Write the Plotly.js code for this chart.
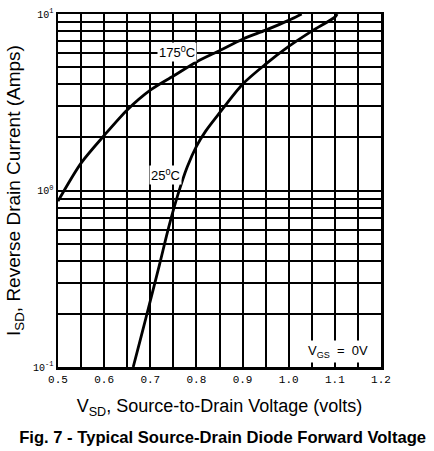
<!DOCTYPE html>
<html>
<head>
<meta charset="utf-8">
<script src="https://cdn.plot.ly/plotly-3.0.1.min.js"></script>
<style>html,body{margin:0;padding:0;background:#fff;}#chart{width:434px;height:451px;}</style>
</head>
<body>
<div id="chart"></div>
<script>
// 175 °C curve
const vsd175 = [0.50, 0.55, 0.60, 0.65, 0.70, 0.75, 0.80, 0.85, 0.90, 0.95, 1.00, 1.028];
const isd175 = [0.87, 1.43, 2.05, 2.86, 3.70, 4.45, 5.35, 6.20, 7.20, 8.10, 9.20, 10.0];
// 25 °C curve
const vsd25 = [0.663, 0.68, 0.70, 0.72, 0.74, 0.76, 0.78, 0.80, 0.82, 0.85, 0.90, 0.95, 1.00, 1.05, 1.10, 1.105];
const isd25 = [0.10, 0.148, 0.237, 0.38, 0.62, 0.95, 1.36, 1.78, 2.17, 2.75, 4.00, 5.20, 6.55, 8.00, 9.60, 10.0];
// axis ticks
const xTickVals = [0.5, 0.6, 0.7, 0.8, 0.9, 1.0, 1.1, 1.2];
const xTickText = ['0.5', '0.6', '0.7', '0.8', '0.9', '1.0', '1.1', '1.2'];
const yTickVals = [0.1, 0.2, 0.3, 0.4, 0.5, 0.6, 0.7, 0.8, 0.9, 1, 2, 3, 4, 5, 6, 7, 8, 9, 10];
const yTickText = ['10<sup>-1</sup>', '', '', '', '', '', '', '', '', '10<sup>0</sup>', '', '', '', '', '', '', '', '', '10<sup>1</sup>'];
// labels
const curveLabels = ['175<sup>0</sup>C', '25<sup>0</sup>C'];
const noteLabel = 'V<sub>GS</sub>  =  0V';

const lineStyle = {color: '#000', width: 2.8, shape: 'spline', smoothing: 0.8};
const traces = [
  {x: vsd175, y: isd175, mode: 'lines', line: lineStyle, hoverinfo: 'skip', showlegend: false},
  {x: vsd25, y: isd25, mode: 'lines', line: lineStyle, hoverinfo: 'skip', showlegend: false}
];

const layout = {
  width: 434, height: 451,
  margin: {l: 58, r: 53, t: 14, b: 84},
  paper_bgcolor: '#fff', plot_bgcolor: '#fff',
  font: {family: 'Liberation Sans, Arial, sans-serif', color: '#000'},
  title: {
    text: '<b>Fig. 7 - Typical Source-Drain Diode Forward Voltage</b>',
    font: {family: 'Liberation Sans, Arial, sans-serif', size: 16.6, color: '#000'},
    x: 0.513, xanchor: 'center', y: 0.031, yanchor: 'middle', yref: 'container'
  },
  xaxis: {
    range: [0.5, 1.2], tickvals: xTickVals, ticktext: xTickText,
    tickfont: {family: 'Liberation Mono, Courier New, monospace', size: 11, color: '#000'},
    showgrid: true, gridcolor: '#000', gridwidth: 2,
    minor: {dtick: 0.05, tick0: 0.5, showgrid: true, gridcolor: '#000', gridwidth: 2},
    showline: true, linecolor: '#000', linewidth: 2.5, mirror: true,
    zeroline: false, ticks: '',
    title: {text: 'V<sub>SD</sub>, Source-to-Drain Voltage (volts)', font: {size: 18, color: '#000'}, standoff: 15}
  },
  yaxis: {
    type: 'log', range: [-1, 1], tickvals: yTickVals, ticktext: yTickText,
    tickfont: {family: 'Liberation Mono, Courier New, monospace', size: 10, color: '#000'},
    showgrid: true, gridcolor: '#000', gridwidth: 2,
    showline: true, linecolor: '#000', linewidth: 2.5, mirror: true,
    zeroline: false, ticks: '',
    title: {text: 'I<sub>SD</sub>, Reverse Drain Current (Amps)', font: {size: 19, color: '#000'}, standoff: 8}
  },
  annotations: [
    {x: 0.757, y: Math.log10(6.1), xref: 'x', yref: 'y', text: curveLabels[0], showarrow: false,
     font: {size: 13, color: '#000'}, bgcolor: '#fff', borderpad: 1},
    {x: 0.733, y: Math.log10(1.22), xref: 'x', yref: 'y', text: curveLabels[1], showarrow: false,
     font: {size: 13, color: '#000'}, bgcolor: '#fff', borderpad: 1},
    {x: 1.107, y: Math.log10(0.122), xref: 'x', yref: 'y', text: noteLabel, showarrow: false,
     font: {size: 13, color: '#000'}, bgcolor: '#fff', borderpad: 2}
  ]
};

Plotly.newPlot('chart', traces, layout, {displayModeBar: false, staticPlot: true});
</script>
</body>
</html>
